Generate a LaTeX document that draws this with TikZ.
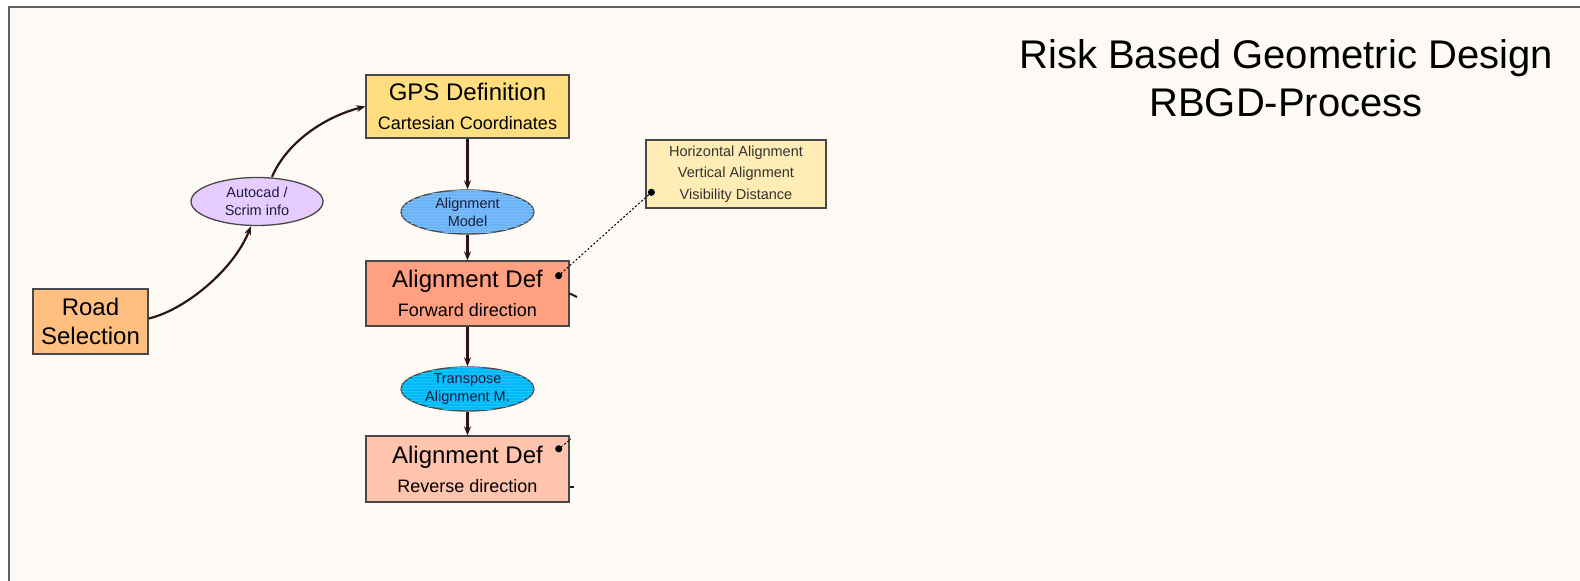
\documentclass[tikz,border=0pt]{standalone}
\usepackage{fontspec}
\setmainfont{Liberation Sans}
\usetikzlibrary{shapes.geometric,arrows.meta,patterns}

\definecolor{paper}{HTML}{FDFAF5}
\definecolor{frameline}{HTML}{606060}
\definecolor{boxline}{HTML}{484848}
\definecolor{arrowcol}{HTML}{2B1414}
\definecolor{bubbletext}{HTML}{1E1E3C}
\definecolor{gpsfill}{HTML}{FFDE80}
\definecolor{fwdfill}{HTML}{FFA080}
\definecolor{revfill}{HTML}{FFC4AE}
\definecolor{roadfill}{HTML}{FFBF80}
\definecolor{cadfill}{HTML}{E6CCFF}
\definecolor{modelfill}{HTML}{6CB4F8}
\definecolor{modelstripe}{HTML}{7CBCF9}
\definecolor{transfill}{HTML}{00BAF8}
\definecolor{transstripe}{HTML}{1CC3FC}
\definecolor{infofill}{HTML}{FFEDB5}

\newcommand{\boxsub}[1]{{\fontsize{18}{22}\selectfont #1}}

\begin{document}
\begin{tikzpicture}[x=1pt,y=1pt,
		box/.style={draw=boxline,line width=1.3pt,rectangle,minimum width=203pt,minimum height=64pt,inner sep=0pt,align=center,font=\fontsize{24}{29}\selectfont},
		bubble/.style={draw=boxline,line width=1.3pt,ellipse,minimum width=133pt,minimum height=44pt,inner sep=0pt,align=center,text=bubbletext,font=\fontsize{14.5}{18}\selectfont},
		flow/.style={arrowcol,line width=2.5pt,-{Stealth[length=9pt,width=7pt]}},
		curvedflow/.style={arrowcol,line width=2.2pt,-{Stealth[length=9pt,width=7pt]}},
		leader/.style={black,line width=1pt,dash pattern=on 2pt off 2pt},
		stub/.style={arrowcol,line width=2pt}]
		\useasboundingbox (0,0) rectangle (1580,581);
		\fill[white] (0,0) rectangle (1580,581);
		\fill[paper] (9,0) rectangle (1580,574);
		\draw[frameline,line width=2pt] (9,0) -- (9,574) -- (1580,574);

		\node[font=\fontsize{40}{48.5}\selectfont,align=center] (title) at (1286,503) {Risk Based Geometric Design\\RBGD-Process};

		\node[box,fill=gpsfill,minimum height=63pt] (gps) at (467.5,474.5) {GPS Definition\\\boxsub{Cartesian Coordinates}};
		\node[bubble,fill=modelfill,postaction={pattern=horizontal lines,pattern color=modelstripe}] (amodel) at (467.5,369) {Alignment\\Model};
		\node[box,fill=fwdfill,minimum height=65pt] (fwd) at (467.5,287.5) {Alignment Def\\\boxsub{Forward direction}};
		\node[bubble,fill=transfill,postaction={pattern=horizontal lines,pattern color=transstripe}] (transp) at (467.5,192) {Transpose\\Alignment M.};
		\node[box,fill=revfill,minimum height=66pt] (rev) at (467.5,112) {Alignment Def\\\boxsub{Reverse direction}};

		\node[box,fill=roadfill,minimum width=115pt,minimum height=65pt] (road) at (90.5,259.5) {Road\\Selection};
		\node[bubble,fill=cadfill,minimum width=132pt,minimum height=48pt] (cad) at (257,379.5) {Autocad /\\Scrim info};

		\node[draw=boxline,line width=1.3pt,fill=infofill,minimum width=180pt,minimum height=68pt,inner sep=0pt,align=center,text=black!80,font=\fontsize{14.5}{21.5}\selectfont] (info) at (736,407) {Horizontal Alignment\\Vertical Alignment\\Visibility Distance};

		\coordinate (fwdDot) at (556,303);
		\coordinate (infoDot) at (654,391);
		\coordinate (revDot) at (556,130);
		\coordinate (revEnd) at (571,142);
		\coordinate (fwdOut) at (577,284);
		\coordinate (revOut) at (574,94);

		\draw[curvedflow] ([yshift=3pt]road.east) .. controls +(35,8) and +(-18,-45) .. ([xshift=-6pt]cad.south);
		\draw[curvedflow] ([xshift=15pt]cad.north) .. controls +(15,35) and +(-40,-10) .. (gps.west);

		\draw[flow] (gps) -- (amodel);
		\draw[flow] (amodel) -- (fwd);
		\draw[flow] (fwd) -- (transp);
		\draw[flow] (transp) -- (rev);

		\draw[leader,{Circle[length=7pt]}-{Circle[length=7pt]}] (fwdDot) -- (infoDot);
		\draw[leader,{Circle[length=7pt]}-] (revDot) -- (revEnd);
		\draw[stub] (fwd.east) -- (fwdOut);
		\draw[stub] (rev.east |- revOut) -- (revOut);
\end{tikzpicture}
\end{document}
